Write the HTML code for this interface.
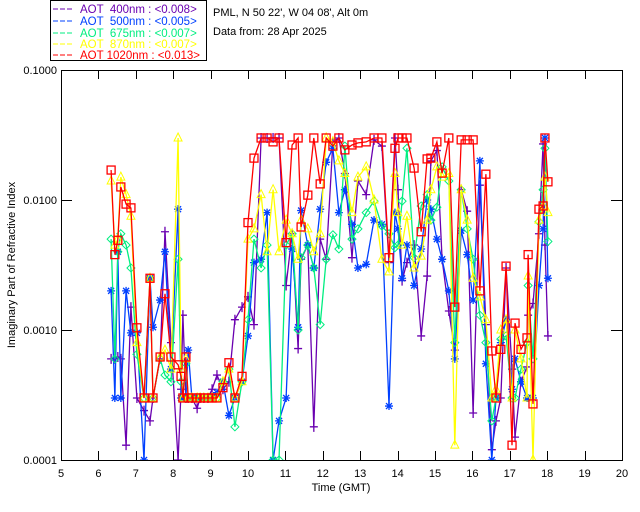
<!DOCTYPE html>
<html><head><meta charset="utf-8"><style>
body{margin:0;background:#fff;}
svg{display:block;font-family:"Liberation Sans",sans-serif;}
</style></head><body>
<svg id="chart" width="640" height="512" viewBox="0 0 640 512" xmlns="http://www.w3.org/2000/svg">
<rect x="0" y="0" width="640" height="512" fill="#fff"/>
<g>
<rect x="50.5" y="0.5" width="156" height="60" fill="#fff" stroke="#000"/>
<g font-size="11.5">
<line x1="53" y1="9" x2="74" y2="9" stroke="#6a00b0" stroke-dasharray="5,2"/><text x="80" y="13" fill="#6a00b0" xml:space="preserve">AOT  400nm : &lt;0.008&gt;</text>
<line x1="53" y1="21" x2="74" y2="21" stroke="#0040ff" stroke-dasharray="5,2"/><text x="80" y="25" fill="#0040ff" xml:space="preserve">AOT  500nm : &lt;0.005&gt;</text>
<line x1="53" y1="33" x2="74" y2="33" stroke="#00ee80" stroke-dasharray="5,2"/><text x="80" y="37" fill="#00ee80" xml:space="preserve">AOT  675nm : &lt;0.007&gt;</text>
<line x1="53" y1="44" x2="74" y2="44" stroke="#ffff00" stroke-dasharray="5,2"/><text x="80" y="48" fill="#ffff00" xml:space="preserve">AOT  870nm : &lt;0.007&gt;</text>
<line x1="53" y1="55" x2="74" y2="55" stroke="#ff0000" stroke-dasharray="5,2"/><text x="80" y="59" fill="#ff0000" xml:space="preserve">AOT 1020nm : &lt;0.013&gt;</text>
</g></g>
<text x="213" y="16" font-size="11">PML, N 50 22', W 04 08', Alt 0m</text>
<text x="213" y="35" font-size="11">Data from: 28 Apr 2025</text>
<text x="341" y="491" font-size="11" text-anchor="middle">Time (GMT)</text>
<text transform="translate(15,265) rotate(-90)" font-size="11" text-anchor="middle">Imaginary Part of Refractive Index</text>
<g id="axes"></g>
<g id="series"></g>
</svg>
<script>
const times=[6.34,6.44,6.52,6.60,6.74,6.87,7.03,7.22,7.38,7.46,7.65,7.78,7.94,8.13,8.21,8.26,8.34,8.40,8.50,8.64,8.72,8.82,8.93,9.04,9.17,9.33,9.49,9.65,9.84,10.0,10.16,10.35,10.51,10.67,10.83,11.02,11.18,11.34,11.42,11.60,11.76,11.93,12.09,12.27,12.43,12.59,12.78,12.94,13.16,13.37,13.58,13.77,13.93,14.01,14.12,14.25,14.44,14.63,14.79,14.89,15.05,15.19,15.37,15.53,15.70,15.86,16.02,16.20,16.36,16.52,16.63,16.76,16.90,17.06,17.14,17.30,17.46,17.49,17.62,17.78,17.89,17.94,18.02];
const aot400=[0.0006,0.0006,0.00062,0.0006,0.00013,0.0015,0.0003,0.00024,0.0002,0.0003,0.0006,0.0057,0.0008,0.0001,0.00035,0.0013,0.0003,0.0003,0.0003,0.00025,0.0003,0.0003,0.0003,0.00035,0.00045,0.00035,0.0004,0.0012,0.0015,0.0018,0.0011,0.03,0.03,0.03,0.03,0.0022,0.0055,0.00072,0.0035,0.0045,0.00018,0.005,0.0035,0.028,0.03,0.016,0.0036,0.014,0.011,0.029,0.026,0.0033,0.03,0.012,0.0024,0.0033,0.0045,0.0009,0.0026,0.02,0.024,0.0035,0.0014,0.0007,0.012,0.0082,0.00023,0.013,0.0011,0.00012,0.0002,0.0003,0.003,0.0005,0.00015,0.0004,0.00052,0.0013,0.0016,0.0055,0.027,0.0045,0.0009];
const aot500=[0.002,0.0003,0.004,0.0003,0.002,0.00095,0.00095,0.0001,0.0025,0.00105,0.0017,0.004,0.0005,0.0085,0.0003,0.0003,0.0003,0.0007,0.0003,0.0003,0.0003,0.0003,0.0003,0.0003,0.00033,0.0004,0.00022,0.0003,0.0004,0.0009,0.0033,0.0035,0.008,0.0001,0.0002,0.0003,0.0042,0.00105,0.0083,0.0045,0.003,0.0085,0.0195,0.025,0.008,0.012,0.0065,0.003,0.0032,0.007,0.0065,0.00026,0.008,0.006,0.0025,0.0045,0.0022,0.0042,0.01,0.0085,0.005,0.0035,0.002,0.0006,0.0058,0.0038,0.0017,0.02,0.00055,0.0001,0.0003,0.0008,0.0012,0.00035,0.0006,0.0004,0.0003,0.0003,0.0003,0.0022,0.006,0.03,0.0025];
const aot675=[0.005,0.0006,0.004,0.0055,0.0045,0.003,0.00065,0.0003,0.0025,0.0003,0.0006,0.00045,0.0004,0.0035,0.0004,0.0003,0.00055,0.0003,0.0003,0.0003,0.0003,0.0003,0.0003,0.0003,0.0003,0.0004,0.0005,0.00018,0.0004,0.0012,0.005,0.003,0.0045,0.0001,0.0001,0.0045,0.0055,0.001,0.0036,0.0045,0.003,0.0011,0.0035,0.0054,0.0042,0.026,0.005,0.006,0.008,0.0098,0.0063,0.0055,0.0043,0.0045,0.0098,0.025,0.0036,0.009,0.011,0.007,0.0088,0.018,0.014,0.0008,0.012,0.006,0.0035,0.0013,0.0008,0.0002,0.0003,0.00085,0.0009,0.0003,0.0003,0.0005,0.0008,0.0022,0.0006,0.0068,0.012,0.025,0.0048];
const aot870=[0.014,0.0045,0.005,0.015,0.011,0.0075,0.0008,0.0003,0.0025,0.0003,0.00062,0.0007,0.0005,0.03,0.0005,0.0003,0.0006,0.0003,0.0003,0.0003,0.0003,0.0003,0.0003,0.0003,0.0003,0.0004,0.0005,0.0003,0.0004,0.005,0.006,0.011,0.004,0.012,0.004,0.007,0.0055,0.0035,0.007,0.006,0.004,0.0055,0.03,0.028,0.02,0.016,0.008,0.015,0.018,0.01,0.0035,0.0028,0.016,0.008,0.0045,0.0075,0.003,0.0037,0.007,0.012,0.018,0.015,0.016,0.00013,0.012,0.007,0.0025,0.0018,0.0012,0.0003,0.00035,0.001,0.0012,0.0003,0.001,0.0006,0.0003,0.0026,0.0001,0.007,0.009,0.015,0.008];
const aot1020=[0.017,0.0038,0.0049,0.0126,0.0093,0.0087,0.00104,0.0003,0.0025,0.0003,0.00062,0.0019,0.00062,0.00054,0.00044,0.0003,0.00062,0.0003,0.0003,0.0003,0.0003,0.0003,0.0003,0.0003,0.0003,0.00036,0.00056,0.0003,0.00044,0.0067,0.021,0.03,0.03,0.028,0.03,0.0047,0.0265,0.03,0.0062,0.0109,0.03,0.0133,0.03,0.026,0.03,0.0243,0.0265,0.0275,0.028,0.03,0.03,0.0036,0.025,0.03,0.03,0.03,0.0176,0.0057,0.0207,0.021,0.028,0.0161,0.03,0.0015,0.029,0.029,0.029,0.002,0.0158,0.00069,0.0003,0.00071,0.0031,0.00013,0.00113,0.00071,0.00087,0.0038,0.00027,0.0085,0.009,0.03,0.0138];
const xTicks=[5,6,7,8,9,10,11,12,13,14,15,16,17,18,19,20];
const yTicks=[0.1,0.01,0.001,0.0001];
const yTickLabels=["0.1000","0.0100","0.0010","0.0001"];

const NS="http://www.w3.org/2000/svg";
const L=61,R=622,T=70,B=460;
function xs(t){return L+(t-5)/15*(R-L);}
function ys(v){return T+(-1-Math.log10(v))/3*(B-T);}
function mk(tag,attrs,parent){const e=document.createElementNS(NS,tag);for(const k in attrs)e.setAttribute(k,attrs[k]);parent.appendChild(e);return e;}
const axes=document.getElementById('axes');
const frame=mk('rect',{x:L+0.5,y:T+0.5,width:R-L,height:B-T,fill:'none',stroke:'#000'},axes);


xTicks.forEach(t=>{
  const x=Math.round(xs(t))+0.5;
  mk('line',{x1:x,y1:B,x2:x,y2:B-9,stroke:'#000'},axes);
  mk('line',{x1:x,y1:T,x2:x,y2:T+9,stroke:'#000'},axes);
  const tx=mk('text',{x:xs(t),y:B+17,'font-size':11,'text-anchor':'middle'},axes);
  tx.textContent=t;
  
  
});
yTicks.forEach((v,i)=>{
  const y=Math.round(ys(v))+0.5;
  mk('line',{x1:L,y1:y,x2:L+11,y2:y,stroke:'#000'},axes);
  mk('line',{x1:R,y1:y,x2:R-11,y2:y,stroke:'#000'},axes);
  const tx=mk('text',{x:L-4,y:ys(v)+4,'font-size':11,'text-anchor':'end'},axes);
  tx.textContent=yTickLabels[i];
  
  
});
const seriesG=document.getElementById('series');
const defs=[[aot400,'#6a00b0','plus','series-400nm'],[aot500,'#0040ff','star','series-500nm'],[aot675,'#00ee80','diamond','series-675nm'],[aot870,'#ffff00','tri','series-870nm'],[aot1020,'#ff0000','square','series-1020nm']];
const clip=mk('clipPath',{id:'pc'},seriesG);mk('rect',{x:L,y:T,width:R-L,height:B-T},clip);
defs.forEach(([vals,col,m,name])=>{
  const g=mk('g',{'clip-path':'url(#pc)'},seriesG);
  
  
  const n=Math.min(vals.length,times.length);
  let pts=[];
  for(let i=0;i<n;i++)pts.push(xs(times[i]).toFixed(1)+','+ys(vals[i]).toFixed(1));
  const pl=mk('polyline',{points:pts.join(' '),fill:'none',stroke:col,'stroke-width':1.3},g);
  
  
  for(let i=0;i<n;i++){
    const x=xs(times[i]),y=ys(vals[i]);
    let e;
    if(m==='plus')e=mk('path',{d:`M${x-4},${y}H${x+4}M${x},${y-5}V${y+5}`,stroke:col,'stroke-width':1.3,fill:'none'},g);
    else if(m==='star')e=mk('path',{d:`M${x-4},${y}H${x+4}M${x},${y-4}V${y+4}M${x-3},${y-3}L${x+3},${y+3}M${x-3},${y+3}L${x+3},${y-3}`,stroke:col,'stroke-width':1.3,fill:'none'},g);
    else if(m==='diamond')e=mk('path',{d:`M${x},${y-4}L${x+4},${y}L${x},${y+4}L${x-4},${y}Z`,stroke:col,'stroke-width':1,fill:'none'},g);
    else if(m==='tri')e=mk('path',{d:`M${x},${y-5}L${x+4},${y+3}L${x-4},${y+3}Z`,stroke:col,'stroke-width':1,fill:'none'},g);
    else e=mk('rect',{x:x-4,y:y-4,width:8,height:8,stroke:col,'stroke-width':1.3,fill:'none'},g);
    
    
  }
});
</script>
</body></html>
